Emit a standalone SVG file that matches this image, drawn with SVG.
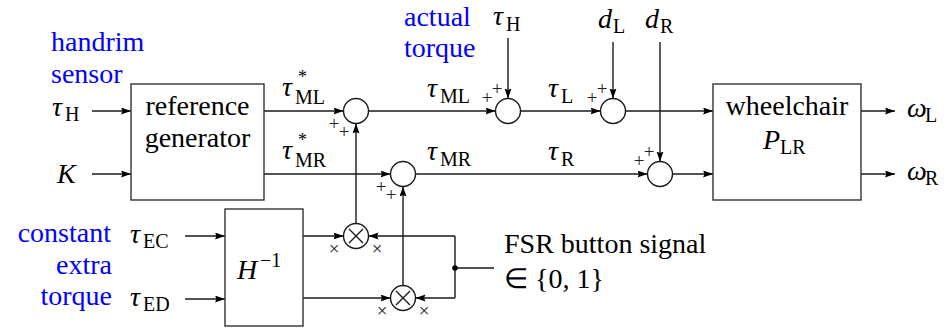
<svg xmlns="http://www.w3.org/2000/svg" width="946" height="329" viewBox="0 0 946 329" font-family="Liberation Serif, Times New Roman, serif">
<defs>
<marker id="a" markerUnits="userSpaceOnUse" markerWidth="11" markerHeight="8" refX="10" refY="3.5" orient="auto">
<path d="M0,0 L10,3.5 L0,7 L1.5,3.5 z" fill="#000"/>
</marker>
<style>
.t{font-size:28px;fill:#000}
.i{font-style:italic}
.s{font-size:20px}
.st{font-size:18px}
.b{fill:#0000ff}
.pm{font-size:19px;fill:#222;text-anchor:middle}
.c{text-anchor:middle}
.r{text-anchor:end}
.ln{fill:none;stroke:#1a1a1a;stroke-width:1.4}
.ar{fill:none;stroke:#1a1a1a;stroke-width:1.4;marker-end:url(#a)}
.bx{fill:#fff;stroke:#333;stroke-width:1.4}
.nd{fill:#fff;stroke:#1a1a1a;stroke-width:1.4}
</style>
</defs>
<rect width="946" height="329" fill="#fff"/>

<g id="connectors">
<path class="ar" d="M92,111 H131"/>
<path class="ar" d="M92,174 H131"/>
<path class="ar" d="M264,111 H343.5"/>
<path class="ar" d="M264,174 H390.5"/>
<path class="ar" d="M368.5,111 H495.5"/>
<path class="ar" d="M520.5,111 H600.5"/>
<path class="ar" d="M625.5,111 H713"/>
<path class="ar" d="M415.5,174 H647.5"/>
<path class="ar" d="M672.5,174 H713"/>
<path class="ar" d="M508,38 V98.5"/>
<path class="ar" d="M613,42 V98.5"/>
<path class="ar" d="M660,42 V161.5"/>
<path class="ar" d="M861,111 H895"/>
<path class="ar" d="M861,174 H895"/>
<path class="ar" d="M185,236 H225"/>
<path class="ar" d="M185,299 H225"/>
<path class="ar" d="M303,236 H343.5"/>
<path class="ar" d="M303,298 H390.5"/>
<path class="ar" d="M455,236 H368.5"/>
<path class="ar" d="M455,298 H415.5"/>
<path class="ln" d="M455,236 V298 M455,268 H494"/>
<circle cx="455" cy="268" r="2.8" fill="#000"/>
<path class="ar" d="M356,223.5 V123.5"/>
<path class="ar" d="M403,285.5 V186.5"/>
</g>

<g id="labels-left">
<text class="t b" x="51" y="51">handrim</text>
<text class="t b" x="51" y="83">sensor</text>
<text class="t i" x="52" y="116">τ</text><text class="t s" x="65" y="121">H</text>
<text class="t i" x="57" y="183">K</text>
<text class="t b r" x="111" y="242">constant</text>
<text class="t b r" x="112" y="274">extra</text>
<text class="t b r" x="112" y="305">torque</text>
<text class="t i" x="130" y="243">τ</text><text class="t s" x="143" y="248">EC</text>
<text class="t i" x="130" y="306">τ</text><text class="t s" x="143" y="311">ED</text>
</g>

<g id="refgen">
<rect class="bx" x="131" y="84" width="133" height="116"/>
<text class="t c" x="197.5" y="115">reference</text>
<text class="t c" x="197.5" y="147">generator</text>
</g>

<g id="hinv">
<rect class="bx" x="225" y="209" width="78" height="117"/>
<text class="t i" x="237" y="279">H</text>
<text class="t s" x="260" y="267">−1</text>
</g>

<g id="wheelchair">
<rect class="bx" x="713" y="84" width="148" height="116"/>
<text class="t c" x="787" y="115">wheelchair</text>
<text class="t i" x="763" y="149">P</text><text class="t s" x="780" y="154">LR</text>
</g>

<g id="sum1">
<circle class="nd" cx="356" cy="111" r="12.5"/>
<text class="pm" x="334" y="130">+</text><text class="pm" x="344" y="138">+</text>
</g>
<g id="sum2">
<circle class="nd" cx="403" cy="174" r="12.5"/>
<text class="pm" x="381" y="193">+</text><text class="pm" x="391" y="201">+</text>
</g>
<g id="sum3">
<circle class="nd" cx="508" cy="111" r="12.5"/>
<text class="pm" x="487" y="104">+</text><text class="pm" x="497" y="95">+</text>
</g>
<g id="sum4">
<circle class="nd" cx="613" cy="111" r="12.5"/>
<text class="pm" x="592" y="104">+</text><text class="pm" x="602" y="95">+</text>
</g>
<g id="sum5">
<circle class="nd" cx="660" cy="174" r="12.5"/>
<text class="pm" x="639" y="167">+</text><text class="pm" x="649" y="158">+</text>
</g>
<g id="mult1">
<circle class="nd" cx="356" cy="236" r="12.5"/>
<path class="ln" d="M349,229 L363,243 M363,229 L349,243"/>
<text class="pm" x="334" y="255">×</text><text class="pm" x="377" y="255">×</text>
</g>
<g id="mult2">
<circle class="nd" cx="403" cy="298" r="12.5"/>
<path class="ln" d="M396,291 L410,305 M410,291 L396,305"/>
<text class="pm" x="382" y="317">×</text><text class="pm" x="424" y="317">×</text>
</g>

<g id="labels-signals">
<text class="t i" x="282" y="96">τ</text><text class="t s" x="295" y="104">ML</text><text class="t st" x="298" y="83">*</text>
<text class="t i" x="282" y="159">τ</text><text class="t s" x="295" y="167">MR</text><text class="t st" x="298" y="146">*</text>
<text class="t i" x="427" y="97">τ</text><text class="t s" x="440" y="103">ML</text>
<text class="t i" x="427" y="160">τ</text><text class="t s" x="440" y="166">MR</text>
<text class="t i" x="548" y="97">τ</text><text class="t s" x="561" y="103">L</text>
<text class="t i" x="548" y="160">τ</text><text class="t s" x="561" y="166">R</text>
<text class="t b" x="404" y="26">actual</text>
<text class="t b" x="404" y="57">torque</text>
<text class="t i" x="493" y="25">τ</text><text class="t s" x="506" y="31">H</text>
<text class="t i" x="598" y="28">d</text><text class="t s" x="613" y="33">L</text>
<text class="t i" x="645" y="28">d</text><text class="t s" x="660" y="33">R</text>
<text class="t i" x="907" y="117">ω</text><text class="t s" x="925" y="122">L</text>
<text class="t i" x="907" y="180">ω</text><text class="t s" x="925" y="185">R</text>
<text class="t" x="504" y="253">FSR button signal</text>
<text class="t" x="504" y="288">∈ {0, 1}</text>
</g>
</svg>
